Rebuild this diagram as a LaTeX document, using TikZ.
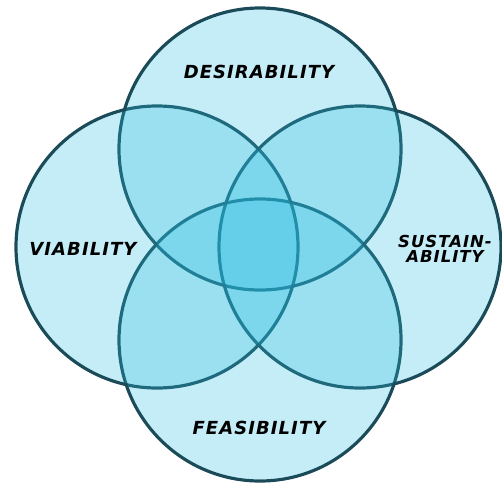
\documentclass[tikz,border=0pt]{standalone}
\usepackage{fontspec}
\newfontfamily\lblfont[LetterSpace=6]{DejaVu Sans Bold Oblique}
\definecolor{ringline}{RGB}{27,75,88}
\definecolor{washc}{RGB}{40,190,225}
\tikzset{
  ring/.style={draw=ringline, line width=3.2pt},
  wash/.style={fill=washc, fill opacity=0.265},
  lbl/.style={font=\lblfont\fontsize{18}{20}\selectfont, text=black, align=center, inner sep=0pt},
  lblsmall/.style={lbl, font=\lblfont\fontsize{16.5}{17}\selectfont}
}
\begin{document}
\begin{tikzpicture}[x=1pt,y=-1pt]
  \path[fill=white] (0,0) rectangle (502,484);
  \useasboundingbox (0,0) rectangle (502,484);
  \coordinate (ctop) at (260,149);
  \coordinate (cbot) at (260,340);
  \coordinate (cleft) at (157,247);
  \coordinate (cright) at (360,247);
  % outlines first
  \foreach \c in {ctop,cbot,cleft,cright}
    \draw[ring] (\c) circle[radius=141pt];
  % translucent fills over them
  \foreach \c in {ctop,cbot,cleft,cright}
    \fill[wash] (\c) circle[radius=139.4pt];
  % labels
  \node[lbl] (des) at (259,72) {DESIRABILITY};
  \node[lbl] (via) at (83,249) {VIABILITY};
  \node[lblsmall] (sus) at (445,249) {SUSTAIN-\\[-2pt]ABILITY};
  \node[lbl] (fea) at (259,428) {FEASIBILITY};
\end{tikzpicture}
\end{document}
